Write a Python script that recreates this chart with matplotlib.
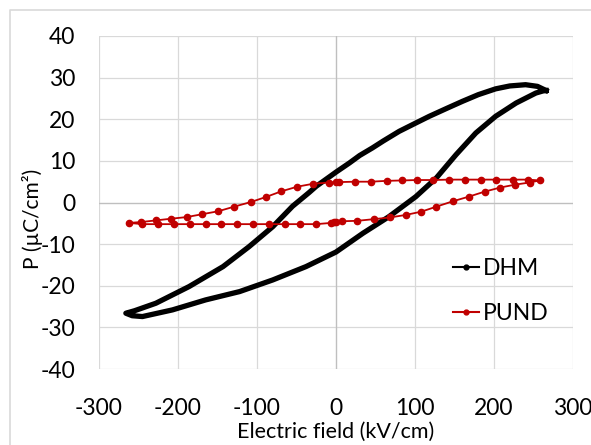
import matplotlib.pyplot as plt
from matplotlib.lines import Line2D

plt.rcParams['font.family'] = ['Lato', 'DejaVu Sans']
plt.rcParams['axes.unicode_minus'] = False

# DHM loop: upper branch (field going down), then lower branch (field going up)
dhm_e = [266, 255, 240, 220, 202, 180, 160, 140, 118, 100, 80, 60, 46, 30, 17, 0,
         -25, -34, -55, -80, -110, -143, -186, -228, -255, -266,
         -258, -245, -207, -165, -122, -80, -59, -38, 0, 34, 67, 101, 127, 152,
         177, 202, 228, 253, 262, 266]
dhm_p = [26.9, 27.9, 28.3, 28.0, 27.3, 25.9, 24.3, 22.6, 20.7, 19.0, 17.1, 14.8, 13.1, 11.3, 9.5, 7.3,
         3.9, 2.4, -0.9, -5.8, -10.6, -15.4, -20.2, -24.2, -26.0, -26.6,
         -27.2, -27.4, -25.8, -23.4, -21.4, -18.6, -17.0, -15.4, -11.9, -7.4, -3.4, 1.4, 5.9, 11.5,
         16.7, 20.7, 23.9, 26.3, 26.8, 26.9]

# PUND loop
pund_e = [-2, 8, 27, 48, 68, 88, 108, 127, 148, 168, 188, 208, 227, 245, 258,
          243, 224, 203, 183, 163, 143, 123, 103, 84, 64, 44, 24, 4, 0,
          -9, -29, -49, -69, -89, -108, -129, -149, -169, -189, -209, -228, -247, -262,
          -245, -225, -205, -185, -165, -145, -125, -105, -85, -65, -45, -25, -6, 0]
pund_p = [-4.8, -4.5, -4.4, -4.0, -3.6, -3.0, -2.2, -1.0, 0.3, 1.4, 2.6, 3.6, 4.3, 4.8, 5.3,
          5.5, 5.5, 5.5, 5.5, 5.5, 5.5, 5.4, 5.4, 5.3, 5.2, 5.0, 5.0, 4.9, 4.9,
          4.8, 4.5, 3.8, 2.7, 1.3, 0.1, -1.0, -2.1, -2.8, -3.5, -3.9, -4.3, -4.7, -4.9,
          -5.2, -5.2, -5.2, -5.2, -5.2, -5.2, -5.2, -5.2, -5.2, -5.2, -5.2, -5.2, -4.9, -4.7]

xticks = [-300, -200, -100, 0, 100, 200, 300]
yticks = [-40, -30, -20, -10, 0, 10, 20, 30, 40]

red = '#C00000'
grid_col = '#D9D9D9'

fig = plt.figure(figsize=(5.91, 4.45), dpi=100)
ax = fig.add_axes([99 / 591, 1 - 369 / 445, 474 / 591, 333 / 445])

ax.plot(dhm_e, dhm_p, color='black', lw=3.8, solid_joinstyle='round', zorder=3)
ax.plot(pund_e, pund_p, color=red, lw=1.3, marker='o', ms=4.5, zorder=4)

ax.set_xlim(-300, 300)
ax.set_ylim(-40, 40)
ax.set_xticks(xticks)
ax.set_yticks(yticks)
ax.grid(True, color=grid_col, lw=0.9)
ax.set_axisbelow(True)
ax.axhline(0, color='#BFBFBF', lw=0.9, zorder=1)
ax.axvline(0, color='#BFBFBF', lw=0.9, zorder=1)
for s in ax.spines.values():
    s.set_visible(False)
ax.tick_params(axis='both', length=0, labelsize=16.5, colors='black')
ax.tick_params(axis='y', pad=17)
ax.tick_params(axis='x', pad=21)

ax.set_xlabel('Electric field (kV/cm)', fontsize=15.5, labelpad=2)
ax.set_ylabel('P (µC/cm²)', fontsize=15)
ax.yaxis.set_label_coords(-0.118, 0.45)

handles = [Line2D([], [], color='black', lw=1.5, marker='o', ms=3.5),
           Line2D([], [], color=red, lw=1.5, marker='o', ms=3.5)]
fig.legend(handles, ['DHM', 'PUND'], loc='upper left',
           bbox_to_anchor=(453 / 591, 1 - 258 / 445), frameon=False,
           fontsize=16.5, handlelength=1.15, handletextpad=0.15,
           labelspacing=1.05, borderpad=0, borderaxespad=0)

# chart area border (light gray)
fig.add_artist(Line2D([10 / 591, 10 / 591, 1], [0, 1 - 10 / 445, 1 - 10 / 445],
                      color=grid_col, lw=1.2, transform=fig.transFigure))

fig.savefig('out.png', dpi=100)
